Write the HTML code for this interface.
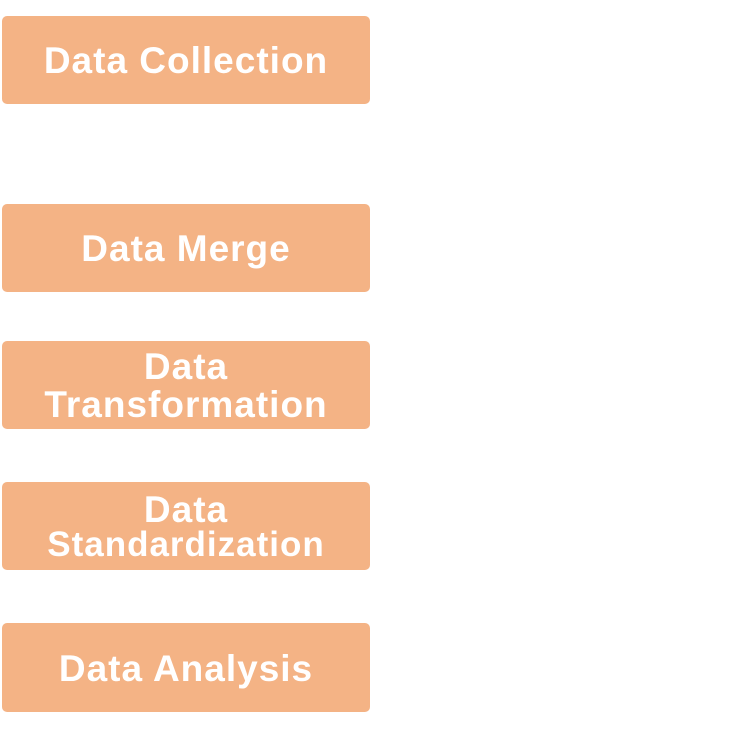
<!DOCTYPE html>
<html><head><meta charset="utf-8"><style>
html,body{margin:0;padding:0;background:#fff;width:755px;height:746px;overflow:hidden}
.b{position:absolute;left:2px;width:368px;height:88px;background:#F4B385;border-radius:5px;color:#fff;font-family:"Liberation Sans",sans-serif;font-weight:bold;font-size:37px;letter-spacing:1px;display:flex;flex-direction:column;align-items:center;justify-content:center;text-align:center;line-height:38px;padding-top:2px;box-sizing:border-box}
</style></head><body>
<div class="b" style="top:16px">Data Collection</div>
<div class="b" style="top:204px">Data Merge</div>
<div class="b" style="top:341px;line-height:38px"><span>Data</span><span>Transformation</span></div>
<div class="b" style="top:482px"><span style="line-height:36px">Data</span><span style="font-size:35px;line-height:34px">Standardization</span></div>
<div class="b" style="top:623px;height:89px">Data Analysis</div>
</body></html>
